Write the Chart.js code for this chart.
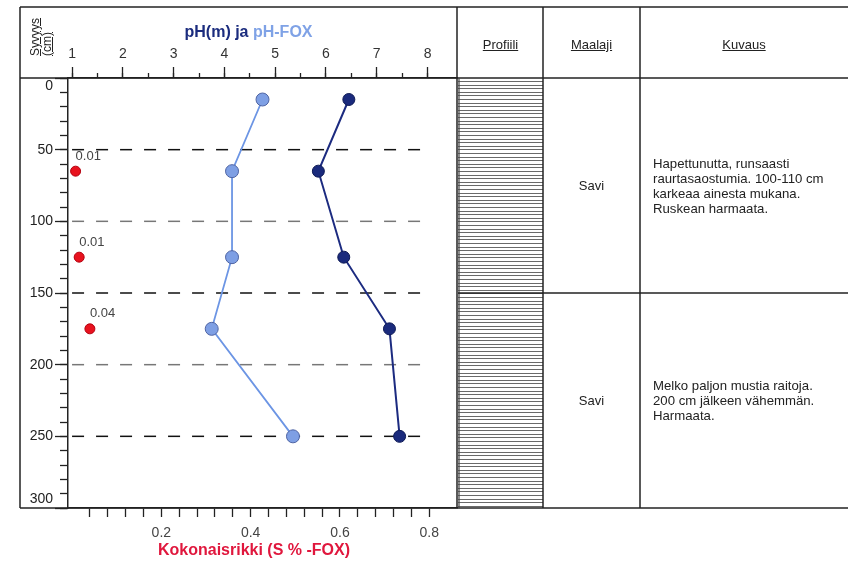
<!DOCTYPE html>
<html>
  <head>
    <meta charset="utf-8" />
    <title>pH(m) ja pH-FOX</title>
    <style>
      body { margin: 0; background: #fff; font-family: "Liberation Sans", Arial, sans-serif; }
      #wrap { position: relative; width: 848px; height: 562px; overflow: hidden; }
      #wrap canvas { position: absolute; left: 0; top: 0; }
      .t { position: absolute; white-space: nowrap; color: #222; }
      .u { text-decoration: underline; }
      .rot { transform: rotate(-90deg); transform-origin: left top; font-size: 12px; line-height: 14px; }
    </style>
  </head>
  <body>
    <div id="wrap">
      <canvas id="chart" width="848" height="562"></canvas>
      <div class="t" style="left:120px; width:257px; top:22px; text-align:center; font-weight:bold; font-size:16px; line-height:20px;">
        <span style="color:#1b2c7e">pH(m) ja</span> <span style="color:#7fa2e6">pH-FOX</span>
      </div>
      <div class="t" style="left:120px; width:268px; top:540px; text-align:center; font-weight:bold; font-size:16px; line-height:20px; color:#e0173d;">Kokonaisrikki (S % -FOX)</div>
      <div class="t rot u" style="left:28px; top:56px;">Syvyys</div>
      <div class="t rot u" style="left:40px; top:56px;">(cm)</div>
    </div>

    <script src="https://cdn.jsdelivr.net/npm/chart.js"></script>
    <script>
      // syvyydet (cm) ja mitatut arvot
      var depths = [15, 65, 125, 175, 250];
      var phM = [6.45, 5.85, 6.35, 7.25, 7.45];
      var phFox = [4.75, 4.15, 4.15, 3.75, 5.35];
      var sDepths = [65, 125, 175];
      var sTotal = [0.008, 0.016, 0.04];
      var sLabels = ["0.01", "0.01", "0.04"];
      // katkoviivat
      var refDepths = [50, 100, 150, 200, 250];
      var refColors = ["#111", "#777", "#111", "#777", "#111"];
      var refSpan = [1, 7.95];
      // profiilin kerrokset
      var layerTop = [0, 150];
      var layerBottom = [150, 300];
      var soils = ["Savi", "Savi"];
      var descriptions = [
        ["Hapettunutta, runsaasti", "raurtasaostumia. 100-110 cm", "karkeaa ainesta mukana.", "Ruskean harmaata."],
        ["Melko paljon mustia raitoja.", "200 cm jälkeen vähemmän.", "Harmaata."]
      ];
      var headers = ["Profiili", "Maalaji", "Kuvaus"];

      Chart.defaults.font.family = '"Liberation Sans", Arial, sans-serif';
      Chart.defaults.color = "#333";

      var datasets = [
        {
          label: "pH(m)",
          xAxisID: "ph",
          yAxisID: "y",
          data: depths.map(function (d, i) { return { x: phM[i], y: d }; }),
          showLine: true,
          borderColor: "#1c2b80",
          borderWidth: 2,
          pointRadius: 6,
          pointBackgroundColor: "#1a2a7c",
          pointBorderColor: "#0e1a55",
          pointBorderWidth: 1
        },
        {
          label: "pH-FOX",
          xAxisID: "ph",
          yAxisID: "y",
          data: depths.map(function (d, i) { return { x: phFox[i], y: d }; }),
          showLine: true,
          borderColor: "#6c95e4",
          borderWidth: 1.8,
          pointRadius: 6.5,
          pointBackgroundColor: "#7e9fe4",
          pointBorderColor: "#4f64a3",
          pointBorderWidth: 1
        },
        {
          label: "S",
          xAxisID: "s",
          yAxisID: "y",
          data: sDepths.map(function (d, i) { return { x: sTotal[i], y: d }; }),
          showLine: false,
          pointRadius: 5,
          pointBackgroundColor: "#e8121e",
          pointBorderColor: "#b3000e",
          pointBorderWidth: 1
        }
      ];
      refDepths.forEach(function (d, i) {
        datasets.push({
          xAxisID: "ph",
          yAxisID: "y",
          data: [{ x: refSpan[0], y: d }, { x: refSpan[1], y: d }],
          showLine: true,
          borderColor: refColors[i],
          borderWidth: 1.5,
          borderDash: [12, 12],
          pointRadius: 0
        });
      });

      function line(ctx, x1, y1, x2, y2) {
        ctx.beginPath();
        ctx.moveTo(x1, y1);
        ctx.lineTo(x2, y2);
        ctx.stroke();
      }

      // kehykset ja profiilin viivoitus
      var framePlugin = {
        id: "frame",
        beforeDatasetsDraw: function (chart) {
          var ctx = chart.ctx;
          var y = chart.scales.y;
          var top = y.getPixelForValue(0), bottom = y.getPixelForValue(300);
          ctx.save();
          ctx.strokeStyle = "#6a6a6a";
          ctx.lineWidth = 1;
          for (var yy = top + 3; yy < bottom - 1; yy += 3.6) {
            line(ctx, 458, Math.round(yy) + 0.5, 543, Math.round(yy) + 0.5);
          }
          ctx.strokeStyle = "#222";
          ctx.lineWidth = 1.5;
          line(ctx, 20, 7, 848, 7);
          line(ctx, 20, 7, 20, bottom);
          line(ctx, 20, bottom, 848, bottom);
          line(ctx, 20, top, 848, top);
          line(ctx, 457, 7, 457, bottom);
          line(ctx, 543, 7, 543, bottom);
          line(ctx, 640, 7, 640, bottom);
          ctx.strokeStyle = "#444";
          ctx.lineWidth = 1.2;
          line(ctx, 459, top, 459, bottom);
          ctx.strokeStyle = "#222";
          ctx.lineWidth = 1.5;
          for (var i = 1; i < layerTop.length; i++) {
            var py = y.getPixelForValue(layerTop[i]);
            line(ctx, 458, py, 848, py);
          }
          ctx.restore();
        },
        afterDatasetsDraw: function (chart) {
          var ctx = chart.ctx;
          var meta = chart.getDatasetMeta(2);
          ctx.save();
          ctx.font = '13px "Liberation Sans", Arial, sans-serif';
          ctx.fillStyle = "#444";
          ctx.textAlign = "left";
          ctx.textBaseline = "middle";
          meta.data.forEach(function (pt, i) {
            ctx.fillText(sLabels[i], pt.x, pt.y - 15);
          });
          ctx.restore();
        }
      };

      var tickGrid = function (len) {
        return { drawOnChartArea: false, drawTicks: true, tickLength: len, tickColor: "#222", tickWidth: 1.3 };
      };

      var chart = new Chart(document.getElementById("chart").getContext("2d"), {
        type: "scatter",
        data: { datasets: datasets },
        plugins: [framePlugin],
        options: {
          responsive: false,
          animation: false,
          devicePixelRatio: 1,
          layout: { padding: { left: 0, top: 0, right: 391, bottom: 0 } },
          plugins: { legend: { display: false }, tooltip: { enabled: false } },
          scales: {
            y: {
              type: "linear", position: "left", reverse: true, min: 0, max: 300, weight: 0,
              ticks: { display: false, stepSize: 10 },
              grid: tickGrid(8),
              border: { display: true, color: "#222", width: 1.5 },
              afterFit: function (s) { s.width = 0; }
            },
            yMajor: {
              type: "linear", position: "left", reverse: true, min: 0, max: 300, weight: 1,
              ticks: {
                stepSize: 50, padding: 2, color: "#222", autoSkip: false, font: { size: 14 },
                callback: function (v) {
                  if (v === 0) return ["", "0"];
                  if (v === 300) return ["300", ""];
                  return String(v);
                }
              },
              grid: tickGrid(13),
              border: { display: false },
              afterFit: function (s) { s.width = 68; }
            },
            ph: {
              type: "linear", position: "top", min: 0.92, max: 8.58, weight: 0,
              ticks: { display: false, stepSize: 0.5, includeBounds: false },
              afterBuildTicks: function (s) { s.ticks = s.ticks.filter(function (t) { return t.value <= 8.001; }); },
              grid: tickGrid(5),
              border: { display: true, color: "#222", width: 1.5 },
              afterFit: function (s) { s.height = 0; }
            },
            phMajor: {
              type: "linear", position: "top", min: 0.92, max: 8.58, weight: 1,
              ticks: { stepSize: 1, includeBounds: false, padding: 4, autoSkip: false, color: "#333", font: { size: 14 } },
              grid: tickGrid(11),
              border: { display: false },
              afterFit: function (s) { s.height = 78; }
            },
            s: {
              type: "linear", position: "bottom", min: -0.009, max: 0.862,
              ticks: {
                stepSize: 0.04, includeBounds: false, padding: 8, autoSkip: false, maxRotation: 0,
                color: "#444", font: { size: 14 },
                callback: function (v) {
                  return Math.abs(v * 5 - Math.round(v * 5)) < 1e-6 ? v.toFixed(1) : "";
                }
              },
              afterBuildTicks: function (s) { s.ticks = s.ticks.filter(function (t) { return t.value > 0.02 && t.value < 0.81; }); },
              grid: tickGrid(9),
              border: { display: true, color: "#222", width: 1.5 },
              afterFit: function (s) { s.height = 54; }
            }
          }
        }
      });

      // taulukon tekstit
      var wrap = document.getElementById("wrap");
      function addText(html, style) {
        var d = document.createElement("div");
        d.className = "t";
        d.innerHTML = html;
        d.setAttribute("style", style);
        wrap.appendChild(d);
        return d;
      }
      var colLeft = [458, 543, 640];
      var colRight = [543, 640, 848];
      headers.forEach(function (h, i) {
        addText('<span class="u">' + h + "</span>",
          "left:" + colLeft[i] + "px; width:" + (colRight[i] - colLeft[i]) + "px; top:37px; text-align:center; font-size:13px; line-height:16px;");
      });
      var ys = chart.scales.y;
      soils.forEach(function (s, i) {
        var mid = (ys.getPixelForValue(layerTop[i]) + ys.getPixelForValue(layerBottom[i])) / 2;
        addText(s, "left:543px; width:97px; top:" + (mid - 8) + "px; text-align:center; font-size:13px; line-height:16px;");
        var lines = descriptions[i];
        addText(lines.join("<br>"), "left:653px; top:" + (mid - lines.length * 15 / 2) + "px; font-size:13.2px; line-height:15px;");
      });
    </script>
  </body>
</html>
